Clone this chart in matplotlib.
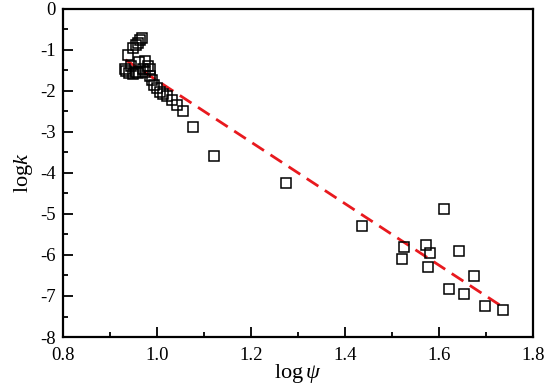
import matplotlib
matplotlib.use('Agg')
import matplotlib.pyplot as plt
import numpy as np

plt.rcParams['font.family'] = ['Liberation Serif', 'DejaVu Serif']
plt.rcParams['mathtext.fontset'] = 'custom'
plt.rcParams['mathtext.rm'] = 'Liberation Serif'
plt.rcParams['mathtext.it'] = 'Liberation Serif:italic'

# measured points (log psi, log k)
log_psi = [0.968, 0.964, 0.959, 0.955, 0.950, 0.938, 0.945, 0.962, 0.975, 0.980,
           0.985, 0.970, 0.955, 0.933, 0.935, 0.940, 0.948, 0.960, 0.975, 0.985,
           0.989, 0.994, 0.999, 1.006, 1.013, 1.022, 1.031, 1.042, 1.056, 1.077,
           1.121, 1.274, 1.436, 1.521, 1.526, 1.572, 1.577, 1.581, 1.610, 1.621,
           1.643, 1.653, 1.674, 1.697, 1.736]
log_k = [-0.72, -0.77, -0.83, -0.88, -0.95, -1.12, -1.40, -1.30, -1.28, -1.40,
         -1.47, -1.48, -1.55, -1.48, -1.53, -1.58, -1.60, -1.57, -1.55, -1.64,
         -1.74, -1.86, -1.94, -2.02, -2.08, -2.12, -2.22, -2.34, -2.50, -2.88,
         -3.60, -4.24, -5.30, -6.11, -5.81, -5.77, -6.30, -5.95, -4.87, -6.83,
         -5.91, -6.95, -6.51, -7.25, -7.33]

# fitted line
fit_slope = -7.50
fit_intercept = 5.75
fit_x = [0.933, 1.736]

fig = plt.figure(figsize=(5.5, 3.91), dpi=100)
ax = fig.add_axes([0.1145, 0.138, 0.8545, 0.840])

ax.plot(log_psi, log_k, 's', ms=7.3, mfc='none', mec='black', mew=1.1, zorder=3)
fx = np.array(fit_x)
ax.plot(fx, fit_intercept + fit_slope * fx, color='#e8191e', lw=2.0,
        dashes=(5, 2.8), zorder=2)

ax.set_xlim(0.8, 1.8)
ax.set_ylim(-8, 0)
ax.set_xticks(np.arange(0.8, 1.81, 0.2))
ax.set_xticks(np.arange(0.9, 1.8, 0.2), minor=True)
ax.set_yticks(np.arange(-8, 0.1, 1))
ax.set_yticks(np.arange(-7.5, 0, 1), minor=True)
ax.set_xticklabels(['0.8', '1.0', '1.2', '1.4', '1.6', '1.8'])
ax.set_yticklabels(['-8', '-7', '-6', '-5', '-4', '-3', '-2', '-1', '0'])

for s in ax.spines.values():
    s.set_linewidth(1.6)
ax.tick_params(which='both', direction='in', width=1.3, labelsize=13.5, top=False, right=False)
ax.tick_params(axis='x', which='major', length=7, pad=7)
ax.tick_params(axis='y', which='major', length=7, pad=5)
ax.tick_params(which='minor', length=3.5)

ax.set_xlabel(r'$\mathrm{log}\,\mathit{\psi}$', fontsize=16, labelpad=-1)
ax.set_ylabel(r'$\mathrm{log}\mathit{k}$', fontsize=16, labelpad=4)

fig.savefig('out.png', dpi=100)
